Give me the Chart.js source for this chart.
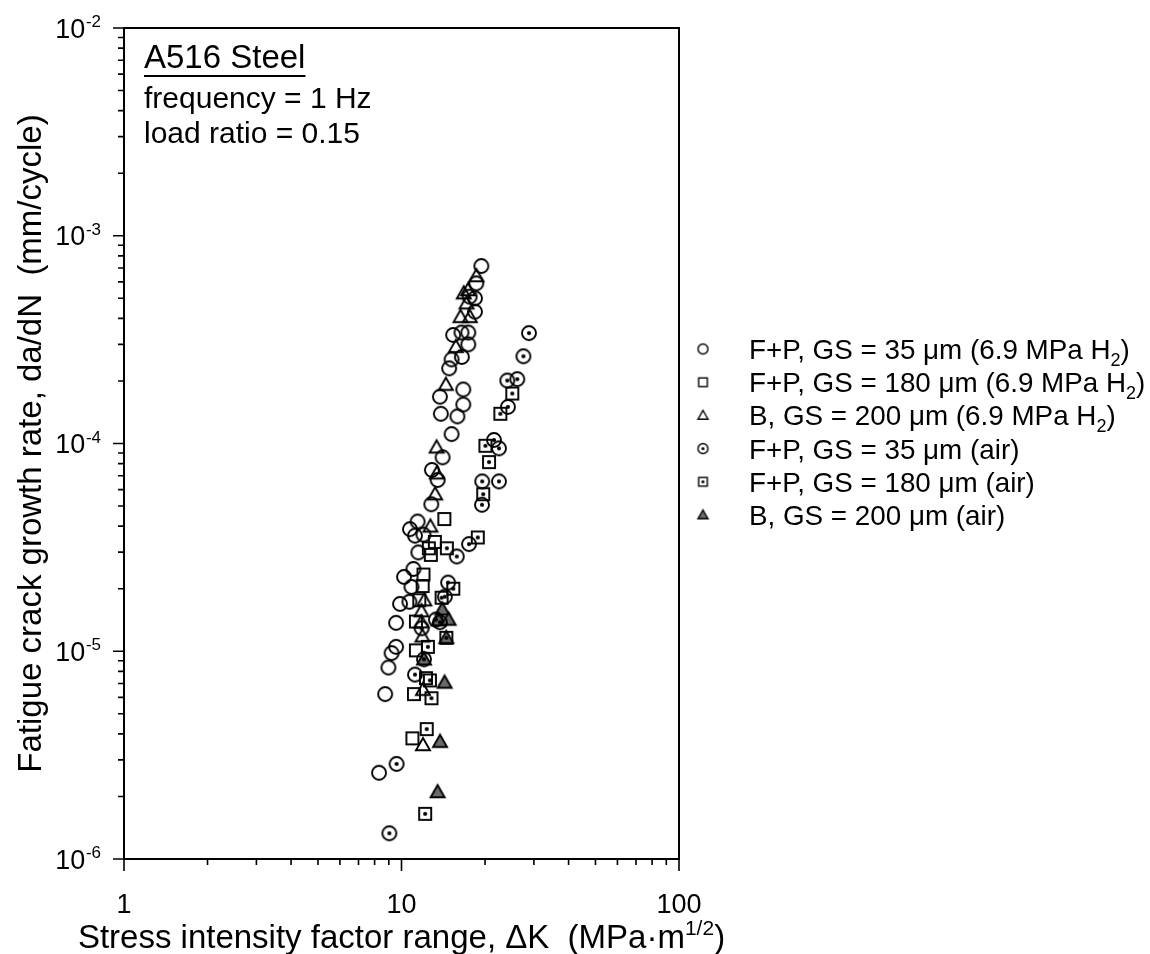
<!DOCTYPE html>
<html>
<head>
<meta charset="utf-8">
<script src="https://cdn.jsdelivr.net/npm/chart.js@4.4.1/dist/chart.umd.min.js"></script>
<style>
html, body { margin: 0; padding: 0; background: #fff; }
canvas { display: block; }
</style>
</head>
<body>
<canvas id="crackChart" width="1150" height="954"></canvas>
<script>
// series labels, in legend order
var seriesNames = [
    'F+P, GS = 35 \u03bcm (6.9 MPa H2)',
    'F+P, GS = 180 \u03bcm (6.9 MPa H2)',
    'B, GS = 200 \u03bcm (6.9 MPa H2)',
    'F+P, GS = 35 \u03bcm (air)',
    'F+P, GS = 180 \u03bcm (air)',
    'B, GS = 200 \u03bcm (air)'
];

// [delta K (MPa m^1/2), da/dN (mm/cycle)]
var fp35H2 = [
    [19.4, 7.15e-4], [18.6, 5.9e-4], [18.4, 5.0e-4], [17.6, 5.09e-4], [18.4, 4.31e-4],
    [15.35, 3.33e-4], [16.45, 3.42e-4], [17.4, 3.42e-4], [17.4, 3.0e-4], [15.15, 2.54e-4],
    [16.5, 2.61e-4], [14.85, 2.3e-4], [16.7, 1.82e-4], [13.75, 1.68e-4], [16.7, 1.54e-4],
    [13.86, 1.39e-4], [15.9, 1.35e-4], [15.15, 1.11e-4], [14.06, 8.58e-5], [12.87, 7.46e-5],
    [13.5, 6.67e-5], [12.8, 5.1e-5], [11.43, 4.21e-5], [10.73, 3.87e-5], [11.18, 3.6e-5],
    [12.0, 3.64e-5], [11.5, 2.99e-5], [11.04, 2.49e-5], [10.21, 2.28e-5], [10.86, 2.04e-5],
    [9.88, 1.69e-5], [10.68, 1.73e-5], [9.56, 1.37e-5], [9.56, 1.05e-5], [9.21, 9.8e-6],
    [8.97, 8.35e-6], [8.73, 6.22e-6], [8.3, 2.6e-6]
];
var fp180H2 = [
    [14.27, 4.33e-5], [13.19, 3.36e-5], [12.55, 3.13e-5], [12.76, 2.91e-5], [12.0, 2.34e-5],
    [11.92, 2.06e-5], [11.59, 1.76e-5], [11.27, 1.39e-5], [11.27, 1.01e-5], [12.25, 7.42e-6],
    [11.09, 6.22e-6], [10.95, 3.81e-6]
];
var b200H2 = [
    [18.62, 6.4e-4], [16.77, 5.29e-4], [17.38, 5.48e-4], [17.15, 4.73e-4], [16.32, 4.07e-4],
    [17.62, 4.07e-4], [15.7, 2.92e-4], [14.45, 1.92e-4], [13.38, 9.58e-5], [13.41, 7.19e-5],
    [13.22, 5.7e-5], [12.71, 3.99e-5], [12.09, 1.76e-5], [11.8, 1.56e-5], [11.8, 1.38e-5],
    [11.9, 1.18e-5], [11.95, 6.53e-6], [11.95, 3.54e-6]
];
var fp35Air = [
    [28.8, 3.4e-4], [27.5, 2.63e-4], [24.06, 2.01e-4], [26.14, 2.04e-4], [24.18, 1.5e-4],
    [21.54, 1.04e-4], [22.45, 9.48e-5], [19.54, 6.57e-5], [22.45, 6.57e-5], [19.5, 5.07e-5],
    [17.51, 3.28e-5], [15.82, 2.86e-5], [14.72, 2.14e-5], [14.33, 1.83e-5], [13.3, 1.42e-5],
    [13.75, 1.38e-5], [11.82, 1.29e-5], [12.05, 9.15e-6], [11.18, 7.72e-6], [9.6, 2.87e-6],
    [9.04, 1.33e-6]
];
var fp180Air = [
    [25.07, 1.74e-4], [22.71, 1.39e-4], [20.06, 9.75e-5], [20.67, 8.14e-5], [19.7, 5.7e-5],
    [18.83, 3.53e-5], [14.57, 3.13e-5], [15.37, 2.0e-5], [13.95, 1.81e-5], [14.51, 1.16e-5],
    [12.45, 1.05e-5], [12.66, 7.24e-6], [12.82, 5.94e-6], [12.33, 4.22e-6], [12.17, 1.65e-6]
];
var b200Air = [
    [14.03, 1.59e-5], [13.6, 1.41e-5], [14.78, 1.42e-5], [14.51, 1.16e-5], [12.05, 9.15e-6],
    [14.3, 7.07e-6], [13.77, 3.67e-6], [13.49, 2.1e-6]
];

var xMajor = [1, 10, 100];
var xTickLabels = ['1', '10', '100'];
var yExponents = [-6, -5, -4, -3, -2];

var markerKinds = ['circle', 'square', 'triangle', 'circleDot', 'squareDot', 'triangleAir'];
var seriesData = [fp35H2, fp180H2, b200H2, fp35Air, fp180Air, b200Air];

var FONT = '"Liberation Sans", Arial, sans-serif';

// build a marker as a small canvas so it can be used as pointStyle
function makeMarker(kind, r, lw) {
    var size = Math.ceil(r * 2 + lw * 2 + 4);
    var c = document.createElement('canvas');
    c.width = size;
    c.height = size;
    var g = c.getContext('2d');
    var m = size / 2;
    g.lineWidth = lw;
    g.strokeStyle = '#000';
    g.fillStyle = '#000';
    var s = r * 0.86;
    if (kind.indexOf('circle') === 0) {
        g.beginPath();
        g.arc(m, m, r, 0, Math.PI * 2);
        g.stroke();
    } else if (kind.indexOf('square') === 0) {
        g.strokeRect(m - s, m - s, 2 * s, 2 * s);
    } else {
        g.beginPath();
        g.moveTo(m, m - r);
        g.lineTo(m + r, m + r * 0.75);
        g.lineTo(m - r, m + r * 0.75);
        g.closePath();
        if (kind === 'triangleAir') {
            g.fillStyle = '#6a6a6a';
            g.fill();
        }
        g.lineJoin = 'miter';
        g.stroke();
    }
    if (kind === 'circleDot' || kind === 'squareDot') {
        g.beginPath();
        g.arc(m, m, lw * 1.1, 0, Math.PI * 2);
        g.fill();
    }
    return c;
}

var pointImages = markerKinds.map(function (k) { return makeMarker(k, 7, 1.9); });
var legendImages = markerKinds.map(function (k) { return makeMarker(k, 5, 1.4); });

var datasets = seriesData.map(function (arr, i) {
    return {
        label: seriesNames[i],
        data: arr.map(function (p) { return { x: p[0], y: p[1] }; }),
        pointStyle: pointImages[i],
        pointRadius: 7
    };
});

// text made of pieces with their own size and vertical shift
function drawRuns(ctx, x, y, runs, align) {
    var total = 0;
    runs.forEach(function (r) {
        ctx.font = r.size + 'px ' + FONT;
        r.w = ctx.measureText(r.t).width;
        total += r.w;
    });
    var cx = align === 'center' ? x - total / 2 : (align === 'right' ? x - total : x);
    ctx.textAlign = 'left';
    ctx.textBaseline = 'alphabetic';
    runs.forEach(function (r) {
        ctx.font = r.size + 'px ' + FONT;
        ctx.fillText(r.t, cx, y + (r.dy || 0));
        cx += r.w;
    });
    return total;
}

var axesPlugin = {
    id: 'axesAndNotes',
    afterDraw: function (chart) {
        var ctx = chart.ctx;
        var a = chart.chartArea;
        var xs = chart.scales.x, ys = chart.scales.y;
        ctx.save();
        ctx.strokeStyle = '#000';
        ctx.fillStyle = '#000';

        // frame
        ctx.lineWidth = 2;
        ctx.strokeRect(a.left, a.top, a.right - a.left, a.bottom - a.top);

        // x ticks
        ctx.lineWidth = 1.6;
        ctx.beginPath();
        for (var d = 0; d < 2; d++) {
            for (var k = 1; k <= 10; k++) {
                var v = k * Math.pow(10, d);
                var px = xs.getPixelForValue(v);
                var len = (k === 1 || k === 10) ? 12 : 6;
                ctx.moveTo(px, a.bottom);
                ctx.lineTo(px, a.bottom + len);
            }
        }
        // y ticks
        for (var e = -6; e < -2; e++) {
            for (var j = 1; j <= 10; j++) {
                var py = ys.getPixelForValue(j * Math.pow(10, e));
                var ln = (j === 1 || j === 10) ? 11 : 6;
                ctx.moveTo(a.left, py);
                ctx.lineTo(a.left - ln, py);
            }
        }
        ctx.stroke();

        // x tick labels
        ctx.font = '27px ' + FONT;
        ctx.textAlign = 'center';
        ctx.textBaseline = 'alphabetic';
        xMajor.forEach(function (v, i) {
            ctx.fillText(xTickLabels[i], xs.getPixelForValue(v), 913);
        });

        // y tick labels as 10 with exponent
        yExponents.forEach(function (ex) {
            var py = ys.getPixelForValue(Math.pow(10, ex));
            var sup = String(ex);
            ctx.font = '17px ' + FONT;
            var sw = ctx.measureText(sup).width;
            ctx.textAlign = 'left';
            ctx.fillText(sup, 101 - sw, py - 1);
            ctx.font = '27px ' + FONT;
            ctx.textAlign = 'right';
            ctx.fillText('10', 101 - sw - 0.5, py + 9.5);
        });

        // axis titles
        drawRuns(ctx, (a.left + a.right) / 2, 948, [
            { t: 'Stress intensity factor range, \u0394K  (MPa\u00b7m', size: 33 },
            { t: '1/2', size: 21, dy: -13 },
            { t: ')', size: 33 }
        ], 'center');

        ctx.save();
        ctx.translate(41, (a.top + a.bottom) / 2);
        ctx.rotate(-Math.PI / 2);
        ctx.font = '33px ' + FONT;
        ctx.textAlign = 'center';
        ctx.fillText('Fatigue crack growth rate, da/dN  (mm/cycle)', 0, 0);
        ctx.restore();

        // notes in the upper left corner
        ctx.textAlign = 'left';
        ctx.font = '33px ' + FONT;
        ctx.fillText('A516 Steel', 144, 68);
        var tw = ctx.measureText('A516 Steel').width;
        ctx.lineWidth = 2;
        ctx.beginPath();
        ctx.moveTo(144, 76);
        ctx.lineTo(144 + tw, 76);
        ctx.stroke();
        ctx.font = '30px ' + FONT;
        ctx.fillText('frequency = 1 Hz', 144, 108);
        ctx.fillText('load ratio = 0.15', 144, 143);

        // legend
        seriesNames.forEach(function (name, i) {
            var cy = 349 + i * 33.2;
            var img = legendImages[i];
            ctx.drawImage(img, 703 - img.width / 2, cy - img.height / 2);
            var runs;
            if (/H2\)$/.test(name)) {
                runs = [
                    { t: name.slice(0, -2), size: 27.8 },
                    { t: '2', size: 18, dy: 7 },
                    { t: ')', size: 27.8 }
                ];
            } else {
                runs = [{ t: name, size: 27.8 }];
            }
            drawRuns(ctx, 749, cy + 10, runs, 'left');
        });
        ctx.restore();
    }
};

new Chart(document.getElementById('crackChart').getContext('2d'), {
    type: 'scatter',
    data: { datasets: datasets },
    options: {
        responsive: false,
        animation: false,
        events: [],
        layout: { padding: { left: 124, right: 471, top: 28, bottom: 95 } },
        scales: {
            x: { type: 'logarithmic', min: 1, max: 100, display: false },
            y: { type: 'logarithmic', min: 1e-6, max: 1e-2, display: false }
        },
        plugins: { legend: { display: false }, tooltip: { enabled: false } }
    },
    plugins: [axesPlugin]
});
</script>
</body>
</html>
